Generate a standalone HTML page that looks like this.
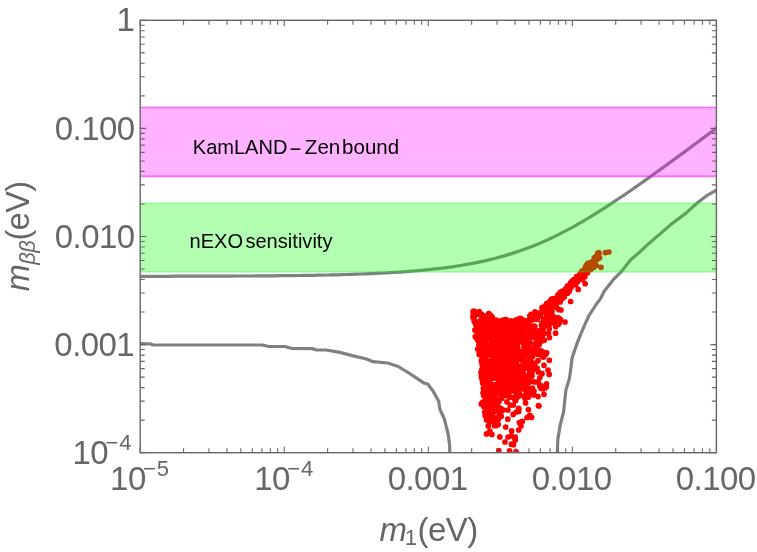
<!DOCTYPE html><html><head><meta charset="utf-8"><title>plot</title><style>html,body{margin:0;padding:0;background:#fff}svg{display:block}text{font-family:"Liberation Sans",sans-serif}</style></head><body>
<svg width="757" height="552" viewBox="0 0 757 552" style="will-change:transform">
<rect width="757" height="552" fill="#fff"/>
<defs><clipPath id="cp"><rect x="140.2" y="20.3" width="576.2" height="432.4"/></clipPath></defs>
<g clip-path="url(#cp)">
<path d="M140.2,276.3 L145.0,276.3 L149.8,276.3 L154.6,276.3 L159.4,276.3 L164.2,276.3 L169.0,276.3 L173.8,276.2 L178.6,276.2 L183.4,276.2 L188.2,276.2 L193.0,276.2 L197.8,276.2 L202.6,276.2 L207.4,276.2 L212.2,276.1 L217.0,276.1 L221.8,276.1 L226.6,276.1 L231.4,276.1 L236.2,276.0 L241.0,276.0 L245.8,276.0 L250.6,276.0 L255.4,275.9 L260.2,275.9 L265.0,275.9 L269.8,275.8 L274.6,275.8 L279.4,275.7 L284.2,275.7 L289.1,275.6 L293.9,275.6 L298.7,275.5 L303.5,275.4 L308.3,275.4 L313.1,275.3 L317.9,275.2 L322.7,275.1 L327.5,275.0 L332.3,274.9 L337.1,274.8 L341.9,274.6 L346.7,274.5 L351.5,274.4 L356.3,274.2 L361.1,274.0 L365.9,273.8 L370.7,273.6 L375.5,273.4 L380.3,273.2 L385.1,273.0 L389.9,272.7 L394.7,272.4 L399.5,272.1 L404.3,271.8 L409.1,271.4 L413.9,271.0 L418.7,270.6 L423.5,270.2 L428.3,269.7 L433.1,269.2 L437.9,268.6 L442.7,268.1 L447.5,267.4 L452.3,266.8 L457.1,266.0 L461.9,265.3 L466.7,264.4 L471.5,263.6 L476.3,262.6 L481.1,261.6 L485.9,260.6 L490.7,259.4 L495.5,258.2 L500.3,256.9 L505.1,255.6 L509.9,254.1 L514.7,252.6 L519.5,251.0 L524.3,249.3 L529.1,247.5 L533.9,245.7 L538.7,243.7 L543.5,241.6 L548.3,239.5 L553.1,237.2 L557.9,234.9 L562.7,232.4 L567.5,229.9 L572.4,227.3 L577.2,224.6 L582.0,221.9 L586.8,219.0 L591.6,216.1 L596.4,213.2 L601.2,210.1 L606.0,207.1 L610.8,203.9 L615.6,200.7 L620.4,197.5 L625.2,194.3 L630.0,191.0 L634.8,187.6 L639.6,184.3 L644.4,180.9 L649.2,177.5 L654.0,174.0 L658.8,170.6 L663.6,167.1 L668.4,163.6 L673.2,160.1 L678.0,156.6 L682.8,153.1 L687.6,149.6 L692.4,146.0 L697.2,142.5 L702.0,138.9 L706.8,135.4 L711.6,131.8 L716.4,128.2" fill="none" stroke="#808080" stroke-width="3.2" stroke-linejoin="round" stroke-linecap="butt"/>
<path d="M140.2,343.7 L150.0,343.8 L153.0,345.0 L262.0,345.0 L268.0,346.3 L285.0,346.5 L292.0,348.5 L312.0,348.6 L316.0,349.8 L326.0,350.0 L340.0,352.4 L353.2,355.9 L366.5,359.0 L373.0,361.7 L387.6,363.0 L398.2,366.5 L408.8,373.0 L418.5,379.4 L424.0,383.1 L427.7,384.0 L433.3,391.4 L438.8,401.6 L439.8,409.0 L444.4,419.2 L448.1,434.0 L449.6,445.0 L449.8,454.0" fill="none" stroke="#808080" stroke-width="3.2" stroke-linejoin="round" stroke-linecap="butt"/>
<path d="M557.3,454.0 L557.8,439.5 L560.3,424.7 L563.5,412.3 L565.9,390.1 L569.6,377.8 L572.1,358.0 L577.1,343.2 L583.2,328.4 L588.7,316.0 L596.8,303.5 L600.5,298.6 L604.2,291.2 L614.1,278.8 L621.5,271.4 L630.2,260.3 L638.8,252.9 L647.5,244.7 L661.0,233.1 L670.9,224.5 L685.7,213.4 L698.1,202.2 L708.0,194.8 L718.0,189.4" fill="none" stroke="#808080" stroke-width="3.2" stroke-linejoin="round" stroke-linecap="butt"/>
<path d="M498.6,362.4h0M484.6,325.3h0M493.7,373.2h0M514.1,355.2h0M475.4,330.4h0M479.2,354.4h0M484.3,337.1h0M519.3,373.0h0M479.2,351.1h0M559.2,323.0h0M484.1,382.2h0M496.7,354.8h0M492.9,378.2h0M498.7,338.2h0M492.3,333.2h0M490.5,394.7h0M487.6,420.3h0M511.5,360.2h0M547.7,324.4h0M506.5,383.0h0M491.2,337.0h0M494.5,388.9h0M526.5,379.1h0M516.4,326.4h0M495.3,340.9h0M560.4,319.3h0M524.7,350.6h0M503.0,409.9h0M528.9,366.3h0M504.5,394.7h0M479.5,339.2h0M482.3,363.4h0M517.9,350.6h0M482.2,379.7h0M480.0,323.0h0M490.2,346.4h0M523.0,325.6h0M528.6,327.4h0M538.0,360.7h0M474.0,318.1h0M549.5,337.6h0M499.0,335.5h0M518.5,322.4h0M502.1,353.3h0M510.0,371.6h0M490.1,376.2h0M493.6,388.8h0M510.8,348.6h0M483.3,379.2h0M544.3,333.6h0M482.6,353.9h0M497.2,411.0h0M522.3,357.3h0M484.2,337.4h0M501.5,386.0h0M519.1,370.3h0M517.4,339.6h0M532.0,320.0h0M522.1,367.9h0M483.5,351.3h0M499.9,355.7h0M507.7,364.3h0M473.3,313.8h0M497.2,377.2h0M528.4,409.5h0M538.9,342.4h0M519.9,351.3h0M496.6,399.7h0M529.3,359.1h0M485.8,330.2h0M522.7,332.1h0M483.4,327.8h0M494.3,338.0h0M513.4,362.2h0M509.5,350.4h0M491.8,340.0h0M512.0,367.1h0M520.1,389.0h0M485.0,379.0h0M518.3,383.5h0M539.0,345.1h0M525.7,388.3h0M492.6,391.2h0M501.2,369.4h0M520.3,334.4h0M505.2,363.2h0M523.5,329.8h0M492.4,415.9h0M488.6,332.6h0M484.1,359.0h0M509.6,356.0h0M498.8,352.5h0M490.8,353.3h0M508.1,437.0h0M505.3,340.2h0M502.8,340.7h0M495.6,364.6h0M534.8,348.8h0M507.8,419.2h0M489.7,414.7h0M500.3,385.9h0M549.2,328.9h0M495.0,321.8h0M531.6,348.6h0M536.2,331.7h0M483.6,329.6h0M542.6,326.7h0M475.0,313.7h0M528.5,397.1h0M486.0,405.8h0M499.2,345.7h0M502.4,385.8h0M508.0,328.6h0M508.8,376.2h0M499.2,378.8h0M489.7,317.6h0M492.4,360.7h0M512.0,378.3h0M481.5,336.3h0M529.9,415.4h0M528.5,395.2h0M514.2,388.3h0M521.8,334.5h0M487.8,371.3h0M482.1,364.7h0M516.6,377.1h0M498.2,424.4h0M490.9,338.7h0M488.0,323.0h0M486.6,419.7h0M487.4,413.3h0M484.4,393.5h0M482.5,333.2h0M507.3,332.8h0M520.2,318.9h0M494.8,321.1h0M512.7,334.8h0M553.7,299.9h0M489.9,392.3h0M487.2,346.0h0M479.6,334.0h0M497.3,383.8h0M491.9,434.4h0M496.6,334.6h0M491.3,394.5h0M490.6,315.4h0M537.5,342.5h0M490.5,347.5h0M558.2,324.4h0M491.6,406.4h0M490.7,338.8h0M493.7,369.4h0M539.1,352.0h0M481.9,369.6h0M494.2,327.7h0M485.0,322.2h0M503.9,378.9h0M504.1,327.3h0M538.2,314.6h0M483.6,391.6h0M514.3,333.4h0M502.4,395.4h0M518.1,394.3h0M510.8,373.9h0M491.1,404.1h0M498.2,360.0h0M514.0,363.2h0M506.7,339.1h0M511.1,330.9h0M500.4,383.0h0M509.4,337.3h0M501.2,372.3h0M540.2,336.8h0M483.7,334.2h0M506.1,321.7h0M529.1,339.0h0M483.3,374.4h0M519.4,320.4h0M538.1,396.6h0M508.3,371.6h0M514.5,383.9h0M523.4,340.1h0M502.9,344.4h0M479.1,326.1h0M496.4,344.8h0M503.0,364.8h0M538.9,330.9h0M508.4,387.1h0M514.0,357.8h0M530.3,343.3h0M501.9,364.4h0M496.9,363.5h0M490.7,337.5h0M488.8,327.8h0M512.3,378.2h0M485.2,390.6h0M490.1,326.0h0M474.1,320.4h0M500.9,389.7h0M479.6,348.2h0M481.7,372.6h0M494.2,320.2h0M517.8,350.7h0M520.5,395.4h0M546.5,383.8h0M513.3,322.1h0M486.5,374.1h0M491.2,372.0h0M496.4,329.3h0M499.8,436.9h0M505.5,319.7h0M488.4,365.5h0M492.0,386.6h0M522.5,340.5h0M532.1,329.4h0M486.0,355.5h0M517.0,377.9h0M492.6,326.3h0M495.6,424.7h0M546.9,305.0h0M522.3,375.6h0M481.4,360.9h0M484.2,386.8h0M510.8,363.2h0M494.4,349.9h0M515.6,376.2h0M497.2,403.2h0M501.6,398.4h0M524.5,339.6h0M526.7,321.0h0M482.5,343.5h0M499.7,335.7h0M490.1,408.1h0M502.2,335.5h0M529.2,374.2h0M552.9,322.6h0M516.4,412.0h0M549.3,322.0h0M509.8,368.1h0M529.1,357.6h0M523.0,366.8h0M501.4,320.5h0M514.9,439.1h0M507.3,390.2h0M509.2,360.1h0M505.8,380.2h0M486.8,347.3h0M514.3,322.2h0M524.3,376.3h0M488.1,395.7h0M531.2,361.7h0M485.2,415.7h0M479.0,324.4h0M556.7,307.6h0M546.7,352.8h0M506.4,367.7h0M516.4,394.1h0M501.4,391.4h0M494.7,358.4h0M492.4,345.9h0M487.1,353.6h0M529.8,315.8h0M510.4,360.5h0M506.6,336.0h0M499.2,334.8h0M541.1,350.9h0M545.6,312.4h0M485.5,352.7h0M493.0,368.2h0M532.6,355.0h0M481.5,377.5h0M497.7,417.6h0M507.8,375.6h0M482.5,340.9h0M506.7,361.9h0M506.7,395.5h0M485.8,328.7h0M502.2,396.9h0M543.3,352.1h0M537.1,368.2h0M538.1,382.3h0M513.3,329.2h0M494.2,335.5h0M480.6,342.8h0M498.9,328.6h0M503.7,370.6h0M515.8,327.4h0M539.8,337.0h0M500.6,326.8h0M488.3,425.9h0M508.5,383.4h0M522.9,322.4h0M489.0,410.1h0M514.3,350.5h0M500.5,366.7h0M506.3,328.3h0M503.6,369.4h0M539.2,344.4h0M488.8,403.2h0M508.9,388.0h0M526.3,385.5h0M480.6,326.0h0M495.7,373.8h0M492.9,386.8h0M524.5,389.2h0M511.1,324.5h0M553.4,306.9h0M533.4,331.0h0M547.4,304.7h0M542.3,337.5h0M488.4,383.9h0M543.6,357.0h0M505.7,321.4h0M511.2,371.7h0M507.7,370.5h0M510.7,352.8h0M531.7,349.7h0M541.8,340.3h0M523.0,338.6h0M537.8,354.3h0M528.6,360.9h0M505.1,348.1h0M521.0,354.9h0M493.8,352.1h0M517.8,367.1h0M501.3,324.2h0M501.2,345.8h0M476.8,325.7h0M498.3,337.9h0M486.1,339.5h0M492.0,359.9h0M483.0,327.2h0M504.8,374.6h0M496.3,369.8h0M478.3,322.2h0M514.6,381.5h0M517.8,341.1h0M551.2,311.9h0M523.2,384.1h0M484.4,325.5h0M548.7,308.1h0M492.6,337.0h0M515.7,333.9h0M499.1,349.4h0M484.6,412.1h0M486.6,403.8h0M493.5,364.7h0M521.6,319.1h0M487.7,404.2h0M506.9,374.9h0M506.4,331.3h0M498.0,325.5h0M524.0,361.3h0M510.4,361.5h0M496.0,392.7h0M494.5,328.8h0M493.8,395.6h0M503.4,395.5h0M492.6,392.9h0M492.3,320.0h0M481.5,321.8h0M479.3,353.3h0M525.3,368.2h0M517.4,372.1h0M508.4,378.7h0M508.8,350.7h0M487.6,409.3h0M503.6,335.5h0M516.7,354.9h0M500.5,361.2h0M510.4,387.7h0M551.3,302.0h0M518.9,369.6h0M513.6,371.4h0M516.4,374.1h0M549.4,360.3h0M552.7,316.3h0M479.2,311.7h0M496.9,346.5h0M524.2,363.1h0M527.1,355.9h0M521.8,388.5h0M502.6,380.6h0M530.1,348.2h0M515.7,397.1h0M500.4,330.7h0M543.5,322.0h0M493.6,388.2h0M509.8,397.3h0M525.9,343.1h0M533.8,381.8h0M483.4,340.0h0M517.5,336.3h0M487.7,420.1h0M506.8,356.1h0M486.0,324.3h0M520.8,321.1h0M519.5,323.4h0M523.7,354.9h0M512.4,329.5h0M484.9,338.9h0M511.3,378.3h0M484.6,351.4h0M489.8,332.0h0M489.9,394.9h0M506.4,323.1h0M489.8,369.0h0M555.2,298.7h0M534.5,368.9h0M491.5,352.8h0M536.1,343.3h0M497.8,406.7h0M481.3,403.9h0M498.9,416.2h0M498.5,323.1h0M506.2,319.7h0M549.2,324.5h0M488.6,346.0h0M489.7,347.7h0M479.9,338.3h0M498.3,354.2h0M496.6,417.6h0M505.6,358.8h0M506.5,326.8h0M513.5,375.8h0M491.4,332.7h0M537.2,319.5h0M480.2,332.8h0M505.4,349.3h0M492.0,421.0h0M553.6,302.4h0M512.0,377.4h0M520.6,318.7h0M518.0,351.0h0M512.3,341.8h0M489.7,407.1h0M497.2,384.8h0M474.9,329.9h0M537.3,338.9h0M486.0,396.0h0M487.3,353.1h0M479.2,314.5h0M558.4,317.9h0M530.0,376.7h0M491.5,388.7h0M503.6,394.8h0M481.9,329.0h0M547.7,306.3h0M519.9,320.0h0M493.2,358.8h0M549.6,303.9h0M496.9,321.8h0M485.9,377.4h0M528.0,343.1h0M490.8,364.5h0M501.3,416.2h0M552.6,299.1h0M506.3,348.3h0M495.5,361.9h0M491.4,342.5h0M487.4,365.9h0M491.0,338.2h0M483.6,315.5h0M498.1,417.3h0M479.0,345.0h0M505.7,427.0h0M541.8,341.0h0M487.9,320.3h0M539.7,386.3h0M508.0,410.0h0M508.3,379.1h0M495.3,421.4h0M489.3,331.9h0M518.6,408.3h0M481.0,372.3h0M493.4,366.2h0M525.7,335.2h0M477.1,339.1h0M518.7,411.4h0M517.8,347.3h0M540.9,354.0h0M539.8,377.8h0M493.7,375.3h0M493.0,390.7h0M477.0,331.6h0M516.3,319.8h0M518.2,333.1h0M503.4,361.1h0M509.1,323.1h0M496.4,368.4h0M546.3,319.3h0M484.4,319.2h0M486.4,388.8h0M499.9,342.8h0M496.1,334.7h0M525.6,403.0h0M493.6,412.0h0M482.0,332.5h0M483.0,361.0h0M487.3,372.7h0M542.4,322.9h0M489.6,416.8h0M532.8,328.7h0M487.1,405.9h0M493.3,339.1h0M504.9,379.0h0M513.9,372.2h0M474.0,311.0h0M541.0,385.6h0M489.2,388.3h0M537.7,335.3h0M514.6,380.6h0M492.3,343.1h0M490.5,346.2h0M496.7,322.4h0M502.7,409.8h0M535.0,311.8h0M524.5,321.4h0M489.7,316.5h0M521.2,337.2h0M492.4,347.3h0M508.9,367.3h0M538.0,341.2h0M482.2,370.2h0M499.7,417.0h0M486.0,380.4h0M486.6,324.9h0M514.8,350.4h0M480.9,338.2h0M482.3,328.0h0M505.3,336.4h0M487.0,413.4h0M488.6,362.9h0M497.3,354.7h0M506.8,356.6h0M482.7,381.6h0M518.1,350.6h0M491.6,350.8h0M479.0,348.7h0M555.6,333.2h0M489.8,369.6h0M531.1,314.4h0M541.2,330.2h0M507.2,332.5h0M490.2,344.8h0M483.8,395.8h0M514.6,391.3h0M498.4,363.1h0M494.1,337.6h0M487.3,391.5h0M490.2,388.8h0M483.6,369.3h0M485.7,361.6h0M501.4,323.1h0M477.3,327.9h0M523.5,326.5h0M489.8,389.8h0M512.4,352.9h0M515.6,344.2h0M512.3,326.3h0M520.8,374.8h0M538.3,371.9h0M496.7,355.4h0M498.3,349.5h0M485.6,404.9h0M556.6,320.8h0M515.7,327.9h0M474.2,317.3h0M480.4,323.1h0M511.0,337.3h0M545.6,325.1h0M484.7,352.4h0M505.1,359.4h0M529.7,320.1h0M510.2,405.1h0M502.8,356.4h0M521.8,340.6h0M479.3,340.9h0M539.4,313.1h0M498.6,355.4h0M483.9,403.3h0M509.4,336.6h0M519.1,370.7h0M488.4,319.2h0M481.2,326.8h0M505.0,323.4h0M493.5,369.8h0M512.6,324.0h0M519.7,374.4h0M508.4,383.9h0M483.4,388.3h0M510.4,382.9h0M481.6,342.1h0M490.6,376.7h0M490.3,325.8h0M484.3,354.5h0M496.1,320.0h0M484.4,389.2h0M485.6,375.9h0M514.5,334.7h0M494.6,425.7h0M510.6,350.0h0M517.8,376.0h0M534.4,326.0h0M514.6,345.8h0M485.0,345.3h0M515.2,323.7h0M524.2,324.1h0M515.7,400.5h0M492.5,359.7h0M497.3,402.0h0M523.3,373.7h0M520.1,319.9h0M546.9,315.9h0M489.6,378.4h0M505.1,355.9h0M532.7,332.5h0M523.3,376.1h0M509.3,343.0h0M517.7,353.5h0M490.8,334.2h0M544.3,340.3h0M521.6,355.2h0M516.3,363.3h0M485.4,341.5h0M515.0,327.8h0M511.7,390.3h0M535.2,343.5h0M493.7,388.8h0M491.4,346.3h0M532.6,356.5h0M509.8,333.3h0M479.5,338.3h0M518.8,330.9h0M478.3,312.1h0M515.6,376.7h0M486.6,377.1h0M504.9,393.3h0M526.5,348.8h0M512.2,323.1h0M548.7,302.5h0M489.7,324.8h0M483.0,393.0h0M524.0,346.7h0M482.7,372.9h0M482.8,345.8h0M530.9,332.4h0M536.7,316.7h0M500.2,341.2h0M548.5,333.3h0M483.8,406.4h0M495.3,405.7h0M492.6,331.7h0M508.5,377.0h0M507.3,330.5h0M512.7,379.3h0M478.4,340.8h0M521.1,356.4h0M492.0,365.8h0M534.2,395.0h0M488.8,313.6h0M524.1,321.1h0M484.4,326.4h0M488.9,371.6h0M516.4,376.1h0M501.7,410.7h0M477.2,337.2h0M521.8,336.8h0M518.8,355.6h0M547.5,315.7h0M516.5,365.7h0M487.6,361.0h0M518.7,387.1h0M519.7,318.3h0M516.6,348.4h0M501.6,382.6h0M508.6,325.9h0M523.1,362.3h0M510.1,365.5h0M484.8,378.5h0M494.2,384.9h0M501.2,409.0h0M484.6,332.5h0M478.0,328.1h0M513.9,337.0h0M498.6,375.0h0M516.1,341.7h0M500.9,340.6h0M522.5,333.5h0M509.1,361.9h0M496.5,393.5h0M518.9,408.6h0M540.7,314.2h0M511.0,363.8h0M502.4,355.1h0M541.6,324.4h0M530.5,330.9h0M479.3,322.0h0M497.4,359.2h0M515.9,356.9h0M493.1,337.2h0M532.0,376.1h0M485.0,381.7h0M511.9,327.6h0M479.2,349.7h0M482.0,319.0h0M532.5,334.9h0M532.4,388.0h0M510.2,338.6h0M509.3,374.3h0M495.2,387.4h0M504.5,382.2h0M554.9,302.8h0M509.9,333.1h0M526.2,391.9h0M495.2,378.0h0M485.1,318.7h0M545.1,388.0h0M498.3,337.0h0M478.8,341.7h0M479.7,352.1h0M477.2,336.3h0M505.5,335.5h0M510.4,343.4h0M520.9,356.9h0M496.2,338.1h0M501.8,377.8h0M517.1,370.6h0M513.2,328.5h0M492.3,356.2h0M513.5,352.4h0M495.5,346.9h0M529.9,330.1h0M485.5,351.6h0M527.1,380.6h0M540.0,332.8h0M498.7,367.1h0M488.5,326.1h0M479.0,349.8h0M509.6,450.9h0M502.7,330.3h0M492.0,371.1h0M502.2,351.2h0M487.0,411.4h0M550.6,320.9h0M495.7,377.8h0M504.3,347.8h0M515.3,437.2h0M498.0,330.9h0M487.8,336.8h0M517.1,345.3h0M529.8,371.7h0M488.6,408.2h0M484.4,379.9h0M490.0,382.6h0M513.2,414.4h0M491.1,320.7h0M541.1,388.4h0M513.5,444.7h0M548.5,304.6h0M522.2,374.1h0M497.3,335.1h0M504.1,346.5h0M501.2,411.0h0M486.5,351.3h0M481.0,330.6h0M482.2,364.0h0M515.6,385.0h0M511.0,364.2h0M511.5,367.6h0M508.4,335.1h0M499.5,370.1h0M519.7,358.1h0M518.5,320.5h0M514.3,336.7h0M548.3,316.9h0M505.7,386.8h0M534.7,315.2h0M529.7,324.5h0M498.3,419.3h0M496.8,366.0h0M486.2,327.8h0M491.5,349.5h0M520.3,359.4h0M543.0,357.1h0M525.9,330.1h0M496.6,330.8h0M528.5,348.7h0M500.0,341.4h0M539.9,315.6h0M486.1,338.0h0M515.3,335.5h0M535.4,352.2h0M486.1,395.6h0M524.2,325.8h0M480.2,325.0h0M503.0,320.2h0M554.0,318.0h0M485.1,400.1h0M482.7,323.5h0M482.0,357.7h0M477.7,349.1h0M480.9,337.6h0M512.8,381.4h0M502.9,320.5h0M503.3,377.6h0M507.9,340.4h0M477.3,328.2h0M513.1,384.4h0M511.8,372.2h0M484.4,350.3h0M473.0,317.1h0M530.7,347.9h0M529.5,366.9h0M558.9,309.7h0M529.7,390.6h0M519.3,393.5h0M521.7,325.2h0M506.9,352.1h0M501.6,325.3h0M497.0,384.9h0M496.2,425.3h0M508.4,388.2h0M506.3,320.3h0M498.2,378.4h0M489.9,431.1h0M527.1,387.1h0M488.4,361.8h0M482.5,337.6h0M515.5,334.8h0M479.8,332.6h0M502.7,371.7h0M555.6,326.6h0M541.7,355.4h0M535.0,363.6h0M504.1,332.5h0M490.4,351.6h0M536.2,382.0h0M553.8,298.6h0M511.0,379.2h0M545.0,319.9h0M537.4,346.5h0M505.0,362.1h0M476.5,313.1h0M493.0,385.5h0M497.6,321.0h0M486.9,338.9h0M555.2,317.6h0M492.5,400.0h0M510.0,329.8h0M496.6,335.8h0M513.6,353.8h0M549.2,374.4h0M481.4,375.7h0M480.9,347.5h0M486.9,351.7h0M555.6,326.6h0M486.6,335.5h0M477.6,332.0h0M511.5,363.6h0M516.3,333.8h0M492.3,408.0h0M517.2,353.4h0M519.7,380.5h0M475.8,324.6h0M506.3,375.5h0M506.7,347.5h0M522.3,421.4h0M482.6,330.0h0M511.9,357.7h0M508.6,340.7h0M492.5,340.0h0M491.1,421.3h0M496.4,321.4h0M486.1,335.2h0M524.3,388.3h0M519.7,319.8h0M510.7,367.7h0M483.2,376.5h0M498.7,450.6h0M473.2,311.4h0M546.8,303.3h0M531.8,367.1h0M481.2,314.4h0M481.0,331.5h0M529.8,392.3h0M492.5,399.2h0M479.8,336.9h0M503.3,371.4h0M502.6,390.9h0M519.4,395.6h0M496.2,377.1h0M507.1,337.3h0M505.1,366.4h0M485.6,354.6h0M542.9,388.7h0M491.9,337.8h0M519.6,378.2h0M506.9,328.7h0M551.9,311.5h0M472.9,317.3h0M488.0,349.5h0M485.4,373.0h0M482.2,346.0h0M522.2,357.5h0M496.0,361.7h0M522.7,338.1h0M498.4,377.7h0M508.0,371.3h0M489.5,396.4h0M541.6,325.7h0M507.5,358.2h0M498.5,379.4h0M483.5,320.7h0M484.1,338.4h0M514.0,360.4h0M482.6,383.0h0M547.4,304.1h0M515.6,347.2h0M498.9,401.8h0M480.3,320.7h0M488.2,400.6h0M495.0,326.4h0M508.9,377.5h0M491.1,317.9h0M514.7,320.6h0M491.0,398.4h0M490.3,326.7h0M511.0,384.3h0M506.2,342.1h0M509.6,391.5h0M491.8,360.9h0M518.0,359.3h0M492.8,318.8h0M523.8,381.6h0M513.3,405.0h0M488.5,350.0h0M514.2,332.7h0M490.6,321.7h0M497.9,377.2h0M493.7,390.6h0M525.2,398.4h0M534.8,326.4h0M499.1,370.4h0M498.5,393.9h0M485.8,414.6h0M481.6,353.4h0M519.8,351.6h0M526.0,324.3h0M492.2,328.4h0M523.8,396.0h0M532.3,319.7h0M550.7,300.5h0M496.6,389.3h0M490.7,333.9h0M497.6,383.9h0M512.0,375.3h0M491.7,338.5h0M496.0,425.7h0M489.1,408.2h0M482.0,348.4h0M529.9,318.9h0M514.4,346.9h0M542.0,307.7h0M497.6,392.2h0M498.2,326.6h0M481.8,353.8h0M475.3,336.7h0M481.5,349.2h0M481.4,314.0h0M473.2,312.6h0M493.5,371.9h0M544.0,394.3h0M498.5,378.0h0M491.0,376.8h0M481.2,338.2h0M507.0,374.1h0M485.6,395.5h0M503.2,320.4h0M513.7,352.3h0M487.3,355.2h0M490.1,350.7h0M520.4,318.4h0M513.2,336.3h0M497.0,405.9h0M499.2,363.6h0M483.9,389.7h0M487.8,335.4h0M488.7,325.0h0M483.5,357.1h0M498.7,330.8h0M543.2,328.6h0M538.4,405.7h0M507.7,378.5h0M513.5,349.9h0M492.3,346.3h0M510.6,324.0h0M531.9,390.6h0M496.0,373.5h0M491.0,320.5h0M515.0,399.9h0M480.6,344.5h0M520.6,355.7h0M534.5,337.8h0M490.0,393.6h0M489.2,325.1h0M553.4,321.1h0M487.7,386.0h0M505.3,363.1h0M525.9,385.4h0M482.4,369.2h0M534.8,333.4h0M532.0,373.5h0M480.9,332.8h0M486.5,433.9h0M489.2,372.0h0M483.3,339.3h0M505.0,442.0h0M494.2,346.0h0M492.0,316.9h0M482.3,342.3h0M496.0,327.7h0M521.5,319.6h0M529.5,339.1h0M516.0,368.0h0M500.8,408.3h0M515.8,340.5h0M526.1,379.7h0M511.6,430.9h0M529.0,379.1h0M511.0,379.2h0M508.6,379.6h0M499.5,358.8h0M495.1,350.3h0M487.2,373.2h0M518.0,375.1h0M500.3,387.6h0M482.2,332.9h0M516.9,342.0h0M515.5,354.3h0M514.3,397.7h0M508.3,349.0h0M515.0,366.6h0M526.0,353.1h0M542.0,373.7h0M522.4,371.7h0M509.9,352.5h0M491.9,375.4h0M508.0,373.9h0M487.5,417.5h0M507.9,363.1h0M505.6,361.9h0M522.9,331.9h0M517.2,397.2h0M503.8,338.7h0M502.2,337.0h0M479.7,339.5h0M499.8,355.8h0M506.9,401.8h0M547.6,318.7h0M544.0,322.9h0M474.1,311.6h0M501.1,360.9h0M515.6,360.3h0M520.5,342.0h0M492.3,333.7h0M518.3,329.2h0M511.4,328.3h0M501.2,373.5h0M496.9,336.9h0M553.0,316.2h0M503.3,381.2h0M517.3,322.6h0M486.0,396.6h0M487.2,381.7h0M526.1,337.3h0M474.2,321.4h0M486.3,369.8h0M516.0,377.3h0M509.8,337.6h0M490.5,319.8h0M502.0,352.6h0M544.0,365.3h0M508.2,343.1h0M515.1,326.3h0M541.3,312.6h0M498.7,373.3h0M492.3,398.9h0M473.0,316.2h0M544.6,311.0h0M545.4,354.7h0M518.2,319.9h0M488.4,371.9h0M536.0,335.8h0M520.6,377.6h0M500.1,368.0h0M482.8,402.2h0M512.7,384.0h0M481.0,350.0h0M513.7,321.6h0M525.3,320.5h0M543.2,311.2h0M498.6,348.9h0M510.0,360.9h0M515.1,391.0h0M496.2,360.5h0M523.4,334.8h0M530.7,333.9h0M529.6,354.5h0M528.9,382.5h0M500.7,327.0h0M497.8,357.2h0M499.8,324.5h0M492.5,341.6h0M536.7,337.9h0M511.0,397.0h0M511.0,351.3h0M504.8,370.3h0M505.5,383.4h0M530.3,393.9h0M519.3,422.6h0M512.0,336.8h0M507.0,392.1h0M519.5,366.4h0M503.4,371.4h0M499.9,331.0h0M555.6,301.9h0M526.7,352.5h0M519.9,327.0h0M486.3,391.2h0M488.3,409.6h0M533.0,335.3h0M543.5,318.8h0M485.1,374.4h0M519.7,336.2h0M488.4,381.5h0M539.0,315.1h0M501.7,381.6h0M504.8,395.5h0M510.9,320.9h0M589.1,266.8h0M552.1,298.8h0M596.4,265.5h0M566.4,291.9h0M587.5,272.8h0M572.9,280.4h0M597.7,257.8h0M576.7,276.4h0M588.8,266.9h0M549.4,309.2h0M559.7,295.0h0M550.0,304.2h0M587.1,264.5h0M580.6,276.6h0M584.9,276.8h0M583.6,273.6h0M567.6,288.0h0M599.6,257.8h0M595.8,256.5h0M555.0,301.0h0M580.1,275.4h0M546.4,306.6h0M563.6,293.7h0M569.0,286.7h0M590.0,262.5h0M577.2,279.9h0M579.6,275.1h0M589.3,263.3h0M570.8,282.5h0M577.0,277.1h0M587.7,265.6h0M559.4,298.0h0M548.8,308.2h0M570.2,285.2h0M564.4,296.7h0M571.0,287.4h0M561.5,297.9h0M559.9,293.2h0M589.3,265.1h0M552.1,303.0h0M560.4,292.5h0M578.7,277.7h0M562.6,291.1h0M554.8,301.5h0M581.5,275.6h0M594.0,261.1h0M591.2,263.3h0M589.1,264.0h0M597.2,257.2h0M560.1,297.3h0M592.2,261.7h0M558.0,294.8h0M555.9,304.1h0M557.8,298.3h0M569.1,288.7h0M563.7,296.0h0M563.1,292.7h0M554.5,304.8h0M577.7,281.5h0M550.5,303.4h0M563.3,291.0h0M578.7,275.6h0M596.9,259.7h0M590.7,269.4h0M567.4,286.2h0M570.9,284.6h0M562.8,298.0h0M545.8,309.4h0M597.8,256.2h0M593.5,267.4h0M552.2,302.3h0M558.7,297.8h0M545.1,305.8h0M571.5,281.8h0M560.2,301.6h0M598.6,255.2h0M589.2,266.5h0M565.0,291.5h0M552.9,305.2h0M579.0,275.9h0M577.9,279.5h0M583.9,272.6h0M558.9,295.5h0M568.5,291.3h0M577.6,280.8h0M574.1,279.5h0M551.1,302.5h0M587.9,267.4h0M588.9,263.1h0M586.5,265.6h0M599.1,253.4h0M569.9,288.3h0M597.7,253.1h0M580.1,273.9h0M560.3,292.2h0M559.1,297.5h0M574.2,281.8h0M585.6,266.5h0M565.7,291.6h0M579.0,278.1h0M573.9,282.2h0M574.9,284.7h0M576.9,278.8h0M561.0,295.3h0M581.6,271.3h0M583.6,272.7h0M549.1,307.2h0M570.4,283.6h0M588.5,267.9h0M568.1,286.0h0M546.4,304.5h0M562.5,293.0h0M596.1,258.8h0M584.9,268.8h0M583.2,273.1h0M559.6,299.8h0M563.6,293.4h0M594.8,258.7h0M569.1,291.5h0M598.8,252.7h0M583.1,274.4h0M562.9,294.4h0M559.8,295.2h0M590.6,263.3h0M583.5,270.1h0M566.1,288.7h0M561.1,299.5h0M558.2,301.0h0M558.5,296.5h0M583.2,273.0h0M567.5,293.2h0M588.6,267.3h0M589.7,262.9h0M587.8,263.3h0M578.5,276.6h0M590.7,264.1h0M587.0,268.8h0M582.2,279.4h0M571.8,283.7h0M590.9,264.0h0M575.6,284.7h0M586.7,265.8h0M588.8,266.5h0M561.6,294.5h0M582.6,273.2h0M598.0,254.7h0M595.2,257.6h0M556.9,299.0h0M590.6,265.7h0M567.7,286.0h0M584.1,272.0h0M569.3,290.9h0M572.0,284.3h0M550.9,300.9h0M565.5,289.2h0M560.2,301.9h0M554.0,301.7h0M565.5,292.6h0M570.3,283.8h0M574.7,279.4h0M573.9,281.0h0M546.0,307.9h0M568.6,290.6h0M561.9,294.1h0M552.3,300.3h0M594.3,257.8h0M551.1,299.7h0M550.6,302.8h0M572.1,285.2h0M571.6,282.3h0M605.4,252.7h0M608.8,252.0h0M601.0,267.3h0M570.6,301.5h0M585.1,283.7h0M578.2,289.4h0M546.3,387.0h0M539.0,406.0h0M516.0,451.5h0M548.0,370.0h0M565.0,322.0h0M561.0,310.0h0M534.0,391.0h0M531.6,417.3h0M527.0,417.5h0M521.0,426.0h0M518.6,430.0h0M511.3,436.0h0M515.3,440.0h0M511.3,444.2h0" fill="none" stroke="#ff0000" stroke-width="5.7" stroke-linecap="round"/>
<rect x="140.2" y="107.5" width="576.2" height="68.8" fill="#ff00ff" fill-opacity="0.3"/>
<path d="M140.2,107.5H716.4M140.2,176.4H716.4" stroke="#ff00ff" stroke-opacity="0.55" stroke-width="1.6" fill="none"/>
<rect x="140.2" y="203.3" width="576.2" height="68.7" fill="#00ff00" fill-opacity="0.3"/>
<path d="M140.2,203.3H716.4M140.2,271.9H716.4" stroke="#00ff00" stroke-opacity="0.3" stroke-width="1.5" fill="none"/>
</g>
<path d="M140.20,452.7v-6M140.20,20.3v6M183.56,452.7v-4.5M183.56,20.3v4.5M208.93,452.7v-4.5M208.93,20.3v4.5M226.93,452.7v-4.5M226.93,20.3v4.5M240.89,452.7v-4.5M240.89,20.3v4.5M252.29,452.7v-4.5M252.29,20.3v4.5M261.94,452.7v-4.5M261.94,20.3v4.5M270.29,452.7v-4.5M270.29,20.3v4.5M277.66,452.7v-4.5M277.66,20.3v4.5M284.25,452.7v-6M284.25,20.3v6M327.61,452.7v-4.5M327.61,20.3v4.5M352.98,452.7v-4.5M352.98,20.3v4.5M370.98,452.7v-4.5M370.98,20.3v4.5M384.94,452.7v-4.5M384.94,20.3v4.5M396.34,452.7v-4.5M396.34,20.3v4.5M405.99,452.7v-4.5M405.99,20.3v4.5M414.34,452.7v-4.5M414.34,20.3v4.5M421.71,452.7v-4.5M421.71,20.3v4.5M428.30,452.7v-6M428.30,20.3v6M471.66,452.7v-4.5M471.66,20.3v4.5M497.03,452.7v-4.5M497.03,20.3v4.5M515.03,452.7v-4.5M515.03,20.3v4.5M528.99,452.7v-4.5M528.99,20.3v4.5M540.39,452.7v-4.5M540.39,20.3v4.5M550.04,452.7v-4.5M550.04,20.3v4.5M558.39,452.7v-4.5M558.39,20.3v4.5M565.76,452.7v-4.5M565.76,20.3v4.5M572.35,452.7v-6M572.35,20.3v6M615.71,452.7v-4.5M615.71,20.3v4.5M641.08,452.7v-4.5M641.08,20.3v4.5M659.08,452.7v-4.5M659.08,20.3v4.5M673.04,452.7v-4.5M673.04,20.3v4.5M684.44,452.7v-4.5M684.44,20.3v4.5M694.09,452.7v-4.5M694.09,20.3v4.5M702.44,452.7v-4.5M702.44,20.3v4.5M709.81,452.7v-4.5M709.81,20.3v4.5M716.40,452.7v-6M716.40,20.3v6M759.76,452.7v-4.5M759.76,20.3v4.5M785.13,452.7v-4.5M785.13,20.3v4.5M803.13,452.7v-4.5M803.13,20.3v4.5M817.09,452.7v-4.5M817.09,20.3v4.5M828.49,452.7v-4.5M828.49,20.3v4.5M838.14,452.7v-4.5M838.14,20.3v4.5M846.49,452.7v-4.5M846.49,20.3v4.5M853.86,452.7v-4.5M853.86,20.3v4.5M716.40,452.7v-6M716.40,20.3v6M140.2,452.70h6M716.4,452.70h-6M140.2,420.16h4.5M716.4,420.16h-4.5M140.2,401.12h4.5M716.4,401.12h-4.5M140.2,387.62h4.5M716.4,387.62h-4.5M140.2,377.14h4.5M716.4,377.14h-4.5M140.2,368.58h4.5M716.4,368.58h-4.5M140.2,361.34h4.5M716.4,361.34h-4.5M140.2,355.08h4.5M716.4,355.08h-4.5M140.2,349.55h4.5M716.4,349.55h-4.5M140.2,344.60h6M716.4,344.60h-6M140.2,312.06h4.5M716.4,312.06h-4.5M140.2,293.02h4.5M716.4,293.02h-4.5M140.2,279.52h4.5M716.4,279.52h-4.5M140.2,269.04h4.5M716.4,269.04h-4.5M140.2,260.48h4.5M716.4,260.48h-4.5M140.2,253.24h4.5M716.4,253.24h-4.5M140.2,246.98h4.5M716.4,246.98h-4.5M140.2,241.45h4.5M716.4,241.45h-4.5M140.2,236.50h6M716.4,236.50h-6M140.2,203.96h4.5M716.4,203.96h-4.5M140.2,184.92h4.5M716.4,184.92h-4.5M140.2,171.42h4.5M716.4,171.42h-4.5M140.2,160.94h4.5M716.4,160.94h-4.5M140.2,152.38h4.5M716.4,152.38h-4.5M140.2,145.14h4.5M716.4,145.14h-4.5M140.2,138.88h4.5M716.4,138.88h-4.5M140.2,133.35h4.5M716.4,133.35h-4.5M140.2,128.40h6M716.4,128.40h-6M140.2,95.86h4.5M716.4,95.86h-4.5M140.2,76.82h4.5M716.4,76.82h-4.5M140.2,63.32h4.5M716.4,63.32h-4.5M140.2,52.84h4.5M716.4,52.84h-4.5M140.2,44.28h4.5M716.4,44.28h-4.5M140.2,37.04h4.5M716.4,37.04h-4.5M140.2,30.78h4.5M716.4,30.78h-4.5M140.2,25.25h4.5M716.4,25.25h-4.5M140.2,20.3h6M716.4,20.3h-6" stroke="#666666" stroke-width="1.1" fill="none"/>
<rect x="140.2" y="20.3" width="576.2" height="432.4" fill="none" stroke="#666666" stroke-width="1.4"/>
<g fill="#666666" font-size="33" letter-spacing="-0.55">
<text x="134.3" y="31.3" text-anchor="end">1</text>
<text x="134.6" y="139.6" text-anchor="end">0.100</text>
<text x="134.6" y="247.7" text-anchor="end">0.010</text>
<text x="134.2" y="355.8" text-anchor="end">0.001</text>
<text x="72.5" y="463.9">10<tspan font-size="22" dy="-13.7" dx="-2.5" letter-spacing="0.9">−4</tspan></text>
<text x="110.1" y="489.9">10<tspan font-size="22" dy="-14" dx="-2.6" letter-spacing="0.9">−5</tspan></text>
<text x="254.2" y="489.9">10<tspan font-size="22" dy="-14" dx="-2.6" letter-spacing="0.9">−4</tspan></text>
<text x="427.6" y="490.2" text-anchor="middle">0.001</text>
<text x="571.6" y="490.2" text-anchor="middle">0.010</text>
<text x="715.7" y="490.2" text-anchor="middle">0.100</text>
<g font-size="32"><text x="379.4" y="540.9" font-style="italic" font-size="33">m</text><text x="404.8" y="545.1" font-size="22">1</text><text x="417.6" y="540.9" font-size="33">(eV)</text>
<text transform="translate(29,291.2) rotate(-90)" font-size="32.5"><tspan font-style="italic">m</tspan><tspan font-size="22" font-style="italic" dy="6">ββ</tspan><tspan dy="-6">(eV)</tspan></text></g>
</g>
<g fill="#000" font-size="20.6">
<text x="192.8" y="154.4" font-size="20.05">KamLAND</text><rect x="290.6" y="148.4" width="9.7" height="1.5"/><text x="304.8" y="154.4">Zen</text><text x="342.1" y="154.4" font-size="20.5">bound</text>
<text x="189.5" y="248.1" font-size="20.1">nEXO</text><text x="245.4" y="248.1" font-size="20.1">sensitivity</text>
</g>
</svg></body></html>
